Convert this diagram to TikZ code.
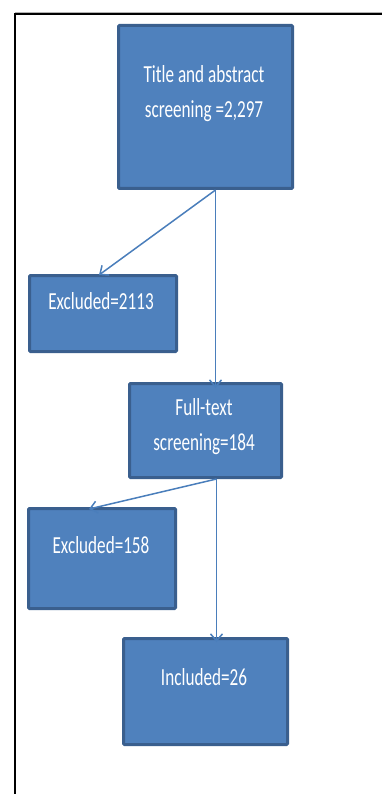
\documentclass[tikz,border=0pt]{standalone}
\usepackage{fontspec}
\newfontfamily\boxfont[FakeStretch=0.7]{Carlito}
\usetikzlibrary{arrows.meta}
\definecolor{boxfill}{HTML}{4F81BD}
\definecolor{boxline}{HTML}{3A5F8E}
\definecolor{arrowc}{HTML}{4A7EBB}
\tikzset{
  box/.style={draw=boxline, fill=boxfill, line width=3pt, rounded corners=1pt, anchor=north west, inner sep=0pt},
  boxtext/.style={text=white, font=\boxfont\fontsize{24.5}{35}\selectfont, align=center, anchor=base, inner sep=0pt},
  conn/.style={draw=arrowc, line width=1.5pt, -{Straight Barb[length=7pt,width=12pt]}}
}
\begin{document}
\begin{tikzpicture}[x=1pt,y=-1pt]
\useasboundingbox (0,0) rectangle (382,794);
% frame
\draw[gray!60, line width=0.8pt] (15,12) -- (382,12);
\draw[black, line width=1.6pt] (15,794) -- (15,14) -- (382,14);
% boxes
\node[box, minimum width=174pt, minimum height=163pt] (b1) at (117,24) {};
\node[box, minimum width=147pt, minimum height=76pt] (b2) at (28,274) {};
\node[box, minimum width=152pt, minimum height=94pt] (b3) at (128,382) {};
\node[box, minimum width=147pt, minimum height=100pt] (b4) at (27,507) {};
\node[box, minimum width=164pt, minimum height=106pt] (b5) at (122,637) {};
% texts (base anchor = baseline of last line)
\node[boxtext] (t1) at (204,118) {Title and abstract\\screening =2,297};
\node[boxtext] (t2) at (101,309) {Excluded=2113};
\node[boxtext] (t3) at (204,450) {Full-text\\screening=184};
\node[boxtext] (t4) at (101,553) {Excluded=158};
\node[boxtext] (t5) at (204,685) {Included=26};
% connectors
\coordinate (s1) at ([xshift=10pt]b1.south);
\coordinate (e2) at ([xshift=-4pt,yshift=-1pt]b2.north);
\coordinate (e3) at ([yshift=-6pt]s1 |- b3.north);
\coordinate (s3) at ([xshift=11pt]b3.south);
\coordinate (e4) at ([xshift=-13pt,yshift=-2pt]b4.north);
\coordinate (e5) at ([yshift=-5pt]s3 |- b5.north);
\draw[conn] (s1) -- (e2);
\draw[conn] (s1) -- (e3);
\draw[conn] (s3) -- (e4);
\draw[conn] (s3) -- (e5);
\end{tikzpicture}
\end{document}
